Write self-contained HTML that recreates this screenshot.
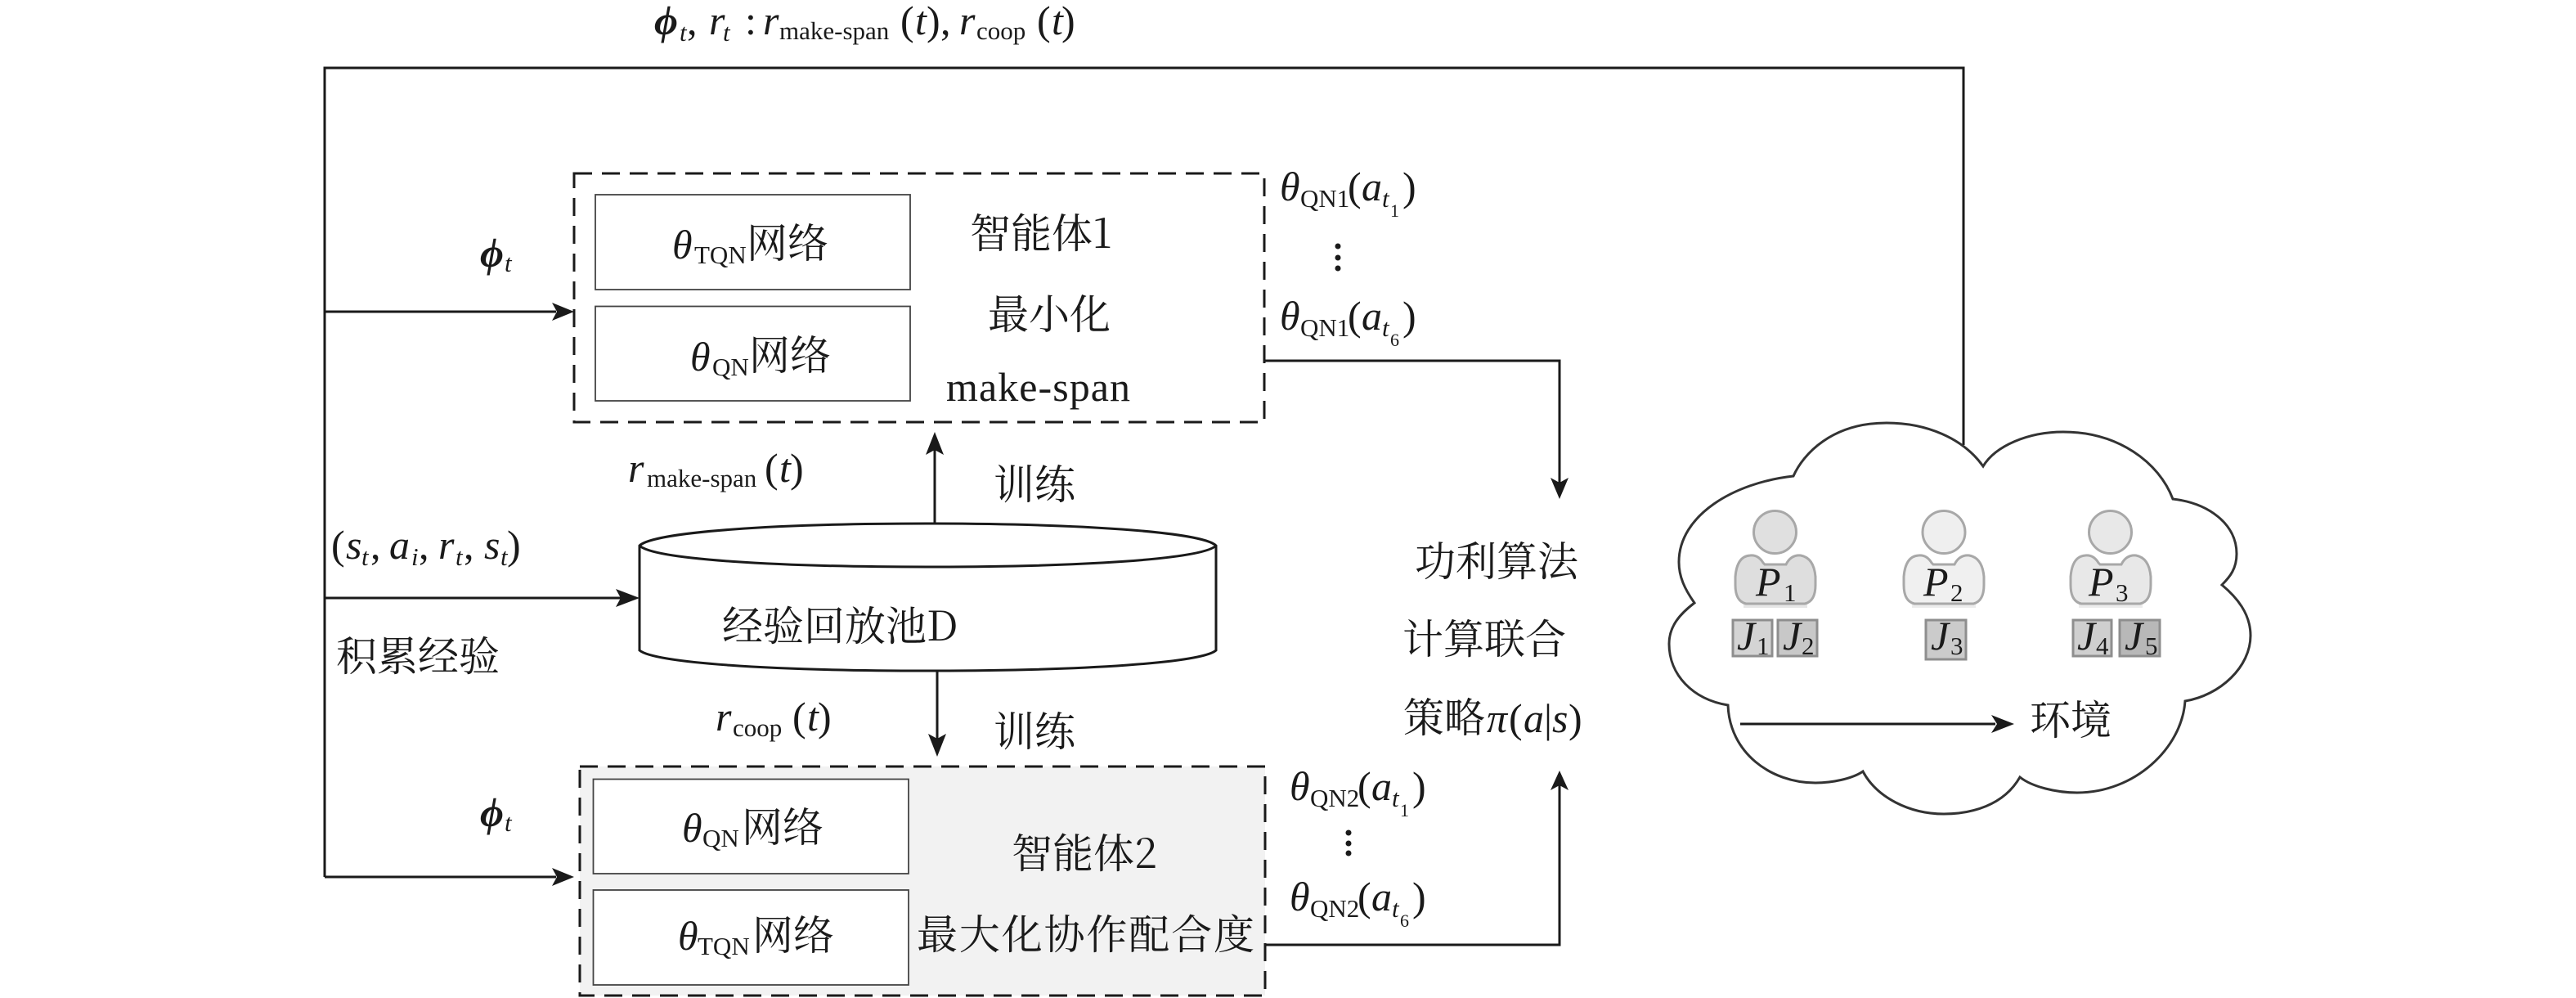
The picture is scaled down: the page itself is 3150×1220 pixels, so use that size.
<!DOCTYPE html>
<html><head><meta charset="utf-8">
<style>
html,body{margin:0;padding:0;background:#fff}
svg{display:block}
text{fill:#1a1a1a;font-family:"Liberation Serif","Noto Serif CJK SC",serif;font-size:50px;white-space:pre}
.c{font-family:"Noto Serif CJK SC","Liberation Serif",serif;font-size:50px;font-weight:400}
.i{font-style:italic}
.b{font-style:italic;font-weight:bold}
.s{font-size:31px}
.u{font-size:22px}
.si{font-size:31px;font-style:italic}
.l{fill:none;stroke:#1a1a1a;stroke-width:3}
.a{fill:#1a1a1a}
.d{stroke:#1a1a1a;stroke-width:3;stroke-dasharray:22 12}
.n{fill:#fff;stroke:#444;stroke-width:1.8}
.h{stroke:#a8a8a8;stroke-width:3}
.j{stroke:#8e8e8e;stroke-width:3}
</style></head>
<body>
<svg xmlns="http://www.w3.org/2000/svg" width="3150" height="1220" viewBox="0 0 3150 1220">
<rect width="3150" height="1220" fill="#fff"/>

<!-- connectors -->
<path class="l" d="M397 1072V83H2401V544"/>
<path class="l" d="M397 381H680M397 731H760M397 1072H680"/>
<path class="a" d="M702 381L675 370L681 381L675 392Z"/>
<path class="a" d="M782 731L753 720L759 731L753 742Z"/>
<path class="a" d="M702 1072L675 1061L681 1072L675 1083Z"/>
<path class="l" d="M1143 640V550"/>
<path class="a" d="M1143 528L1132 556L1143 550L1154 556Z"/>
<path class="l" d="M1146 820V905"/>
<path class="a" d="M1146 925L1135 897L1146 903L1157 897Z"/>
<path class="l" d="M1546 441H1907V590"/>
<path class="a" d="M1907 610L1896 584L1907 590L1918 584Z"/>
<path class="l" d="M1547 1155H1907V960"/>
<path class="a" d="M1907 942L1896 966L1907 960L1918 966Z"/>

<!-- agent 1 -->
<rect class="d" x="702" y="212" width="844" height="304" fill="#fff"/>
<rect class="n" x="728" y="238" width="385" height="116"/>
<rect class="n" x="728" y="374.5" width="385" height="115.5"/>
<path class="l" d="M1546 441H1600"/>

<!-- agent 2 -->
<rect class="d" x="709" y="937" width="838" height="280" fill="#f2f2f2"/>
<rect class="n" x="725.5" y="952.5" width="385.5" height="115.5"/>
<rect class="n" x="725.5" y="1088" width="385.5" height="116"/>

<!-- cylinder -->
<path d="M782 667C800 650 950 640 1134 640S1470 650 1487 667V795C1470 810 1330 820 1134 820S800 810 782 795Z" fill="#fff" stroke="#1a1a1a" stroke-width="3"/>
<path class="l" d="M782 667C800 684 950 693 1134 693S1470 684 1487 667"/>

<!-- cloud -->
<path d="M2193 582C2205 555 2240 517 2307 517C2355 517 2400 535 2425 570C2440 545 2480 528 2523 528C2590 528 2640 565 2657 610C2700 615 2735 640 2735 677C2735 695 2727 705 2717 715C2735 730 2752 750 2752 777C2752 815 2715 850 2672 857C2668 915 2610 969 2540 969C2515 969 2485 962 2470 950C2450 985 2410 995 2377 995C2335 995 2295 975 2278 943C2265 952 2240 957 2220 957C2165 957 2115 920 2113 862C2070 855 2041 825 2041 787C2041 765 2055 750 2072 737C2060 720 2053 705 2053 687C2053 630 2120 590 2193 582Z" fill="#fff" stroke="#333" stroke-width="3"/>

<!-- people -->
<g>
<rect x="2132" y="738" width="78" height="5" fill="#e6e6e6"/>
<circle class="h" cx="2170.5" cy="650.5" r="26" fill="#e0e0e0"/>
<path class="h" fill="#dedede" d="M2135 738Q2122 735 2122 715V705Q2124 680 2140 679Q2150 678 2156 688L2158 690H2184Q2190 678 2202 679Q2218 682 2220 705V715Q2220 735 2207 738Z"/>
</g>
<g transform="translate(206 0)">
<rect x="2132" y="738" width="78" height="5" fill="#ececec"/>
<circle class="h" cx="2171" cy="650.5" r="26" fill="#efefef"/>
<path class="h" fill="#f0f0f0" d="M2135 738Q2122 735 2122 715V705Q2124 680 2140 679Q2150 678 2156 688L2158 690H2184Q2190 678 2202 679Q2218 682 2220 705V715Q2220 735 2207 738Z"/>
</g>
<g transform="translate(410 0)">
<rect x="2132" y="738" width="78" height="5" fill="#ececec"/>
<circle class="h" cx="2170.5" cy="650.5" r="26" fill="#e8e8e8"/>
<path class="h" fill="#e8e8e8" d="M2135 738Q2122 735 2122 715V705Q2124 680 2140 679Q2150 678 2156 688L2158 690H2184Q2190 678 2202 679Q2218 682 2220 705V715Q2220 735 2207 738Z"/>
</g>
<rect class="j" x="2119" y="758" width="48" height="44" fill="#d4d4d4"/>
<rect class="j" x="2174" y="758" width="48" height="44" fill="#c8c8c8"/>
<rect class="j" x="2355" y="758" width="49" height="48" fill="#cbcbcb"/>
<rect class="j" x="2535" y="758" width="47" height="44" fill="#cfcfcf"/>
<rect class="j" x="2592" y="758" width="49" height="44" fill="#b8b8b8"/>

<path class="l" d="M2128 885H2440"/>
<path class="a" d="M2463 885L2435 874L2442 885L2435 896Z"/>

<!-- dots -->
<g class="a">
<circle cx="1636" cy="301" r="3.5"/><circle cx="1636" cy="315" r="3.5"/><circle cx="1636" cy="328" r="3.5"/>
<circle cx="1649" cy="1018" r="3.5"/><circle cx="1649" cy="1031" r="3.5"/><circle cx="1649" cy="1043" r="3.5"/>
</g>

<!-- top label -->
<text class="b" x="800" y="42">ϕ</text><text class="si" x="831" y="50">t</text><text x="840" y="42">,</text>
<text class="i" x="867" y="42">r</text><text class="si" x="884" y="50">t</text><text x="911" y="42">:</text>
<text class="i" x="933" y="42">r</text><text class="s" x="953" y="48">make-span</text>
<text x="1101" y="42">(</text><text class="i" x="1119" y="42">t</text><text x="1133" y="42">)</text><text x="1150" y="42">,</text>
<text class="i" x="1173" y="42">r</text><text class="s" x="1194" y="48">coop</text>
<text x="1268" y="42">(</text><text class="i" x="1286" y="42">t</text><text x="1298" y="42">)</text>

<!-- phi -->
<text class="b" x="587" y="326">ϕ</text><text class="si" x="617" y="332">t</text>
<text class="b" x="587" y="1010">ϕ</text><text class="si" x="617" y="1016">t</text>

<!-- agent 1 labels -->
<text class="i" x="822" y="316">θ</text><text class="s" x="849" y="322">TQN</text><text class="c" x="913" y="315">网络</text>
<text class="i" x="844" y="453">θ</text><text class="s" x="871" y="459">QN</text><text class="c" x="916" y="452">网络</text>
<text class="c" x="1186" y="303">智能体1</text>
<text class="c" x="1208" y="402">最小化</text>
<text x="1157" y="490" textLength="225">make-span</text>

<!-- r labels -->
<text class="i" x="768" y="589">r</text><text class="s" x="791" y="595">make-span</text>
<text x="935" y="589">(</text><text class="i" x="953" y="589">t</text><text x="966" y="589">)</text>
<text class="c" x="1215" y="610">训练</text>

<!-- s-tuple -->
<text x="405" y="683">(</text><text class="i" x="423" y="683">s</text><text class="si" x="442" y="691">t</text><text x="453" y="683">,</text>
<text class="i" x="476" y="683">a</text><text class="si" x="503" y="691">i</text><text x="512" y="683">,</text>
<text class="i" x="536" y="683">r</text><text class="si" x="557" y="691">t</text><text x="567" y="683">,</text>
<text class="i" x="592" y="683">s</text><text class="si" x="612" y="691">t</text><text x="620" y="683">)</text>
<text class="c" x="411" y="820">积累经验</text>
<text class="c" x="883" y="783">经验回放池D</text>

<text class="i" x="875" y="893">r</text><text class="s" x="896" y="900">coop</text>
<text x="969" y="893">(</text><text class="i" x="987" y="893">t</text><text x="1000" y="893">)</text>
<text class="c" x="1215" y="912">训练</text>

<!-- agent 2 labels -->
<text class="i" x="834" y="1029">θ</text><text class="s" x="859" y="1035">QN</text><text class="c" x="907" y="1029">网络</text>
<text class="i" x="829" y="1161">θ</text><text class="s" x="853" y="1167">TQN</text><text class="c" x="920" y="1161">网络</text>
<text class="c" x="1237" y="1061">智能体2</text>
<text class="c" x="1121" y="1160" textLength="413">最大化协作配合度</text>

<!-- outputs 1 -->
<text class="i" x="1565" y="245">θ</text><text class="s" x="1590" y="253">QN1</text><text x="1648" y="245">(</text><text class="i" x="1665" y="245">a</text><text class="si" x="1690" y="253">t</text><text class="u" x="1700" y="265">1</text><text x="1715" y="245">)</text>
<text class="i" x="1565" y="403">θ</text><text class="s" x="1590" y="411">QN1</text><text x="1648" y="403">(</text><text class="i" x="1665" y="403">a</text><text class="si" x="1690" y="411">t</text><text class="u" x="1700" y="423">6</text><text x="1715" y="403">)</text>

<!-- outputs 2 -->
<text class="i" x="1577" y="978">θ</text><text class="s" x="1602" y="986">QN2</text><text x="1660" y="978">(</text><text class="i" x="1677" y="978">a</text><text class="si" x="1702" y="986">t</text><text class="u" x="1712" y="998">1</text><text x="1727" y="978">)</text>
<text class="i" x="1577" y="1113">θ</text><text class="s" x="1602" y="1121">QN2</text><text x="1660" y="1113">(</text><text class="i" x="1677" y="1113">a</text><text class="si" x="1702" y="1121">t</text><text class="u" x="1712" y="1133">6</text><text x="1727" y="1113">)</text>

<!-- algorithm -->
<text class="c" x="1730" y="704">功利算法</text>
<text class="c" x="1715" y="799">计算联合</text>
<text class="c" x="1716" y="895">策略</text><text class="i" x="1818" y="895">π</text><text x="1845" y="895">(</text><text class="i" x="1863" y="895">a</text><text x="1888" y="895">|</text><text class="i" x="1898" y="895">s</text><text x="1918" y="895">)</text>

<!-- cloud labels -->
<text class="i" x="2147" y="728">P</text><text class="s" x="2181" y="735">1</text>
<text class="i" x="2352" y="728">P</text><text class="s" x="2385" y="735">2</text>
<text class="i" x="2554" y="728">P</text><text class="s" x="2587" y="735">3</text>
<text class="i" x="2124" y="794">J</text><text class="s" x="2148" y="800">1</text>
<text class="i" x="2180" y="794">J</text><text class="s" x="2203" y="800">2</text>
<text class="i" x="2361" y="794">J</text><text class="s" x="2385" y="800">3</text>
<text class="i" x="2540" y="794">J</text><text class="s" x="2563" y="800">4</text>
<text class="i" x="2598" y="794">J</text><text class="s" x="2623" y="800">5</text>
<text class="c" x="2482" y="898">环境</text>
</svg>
</body></html>
